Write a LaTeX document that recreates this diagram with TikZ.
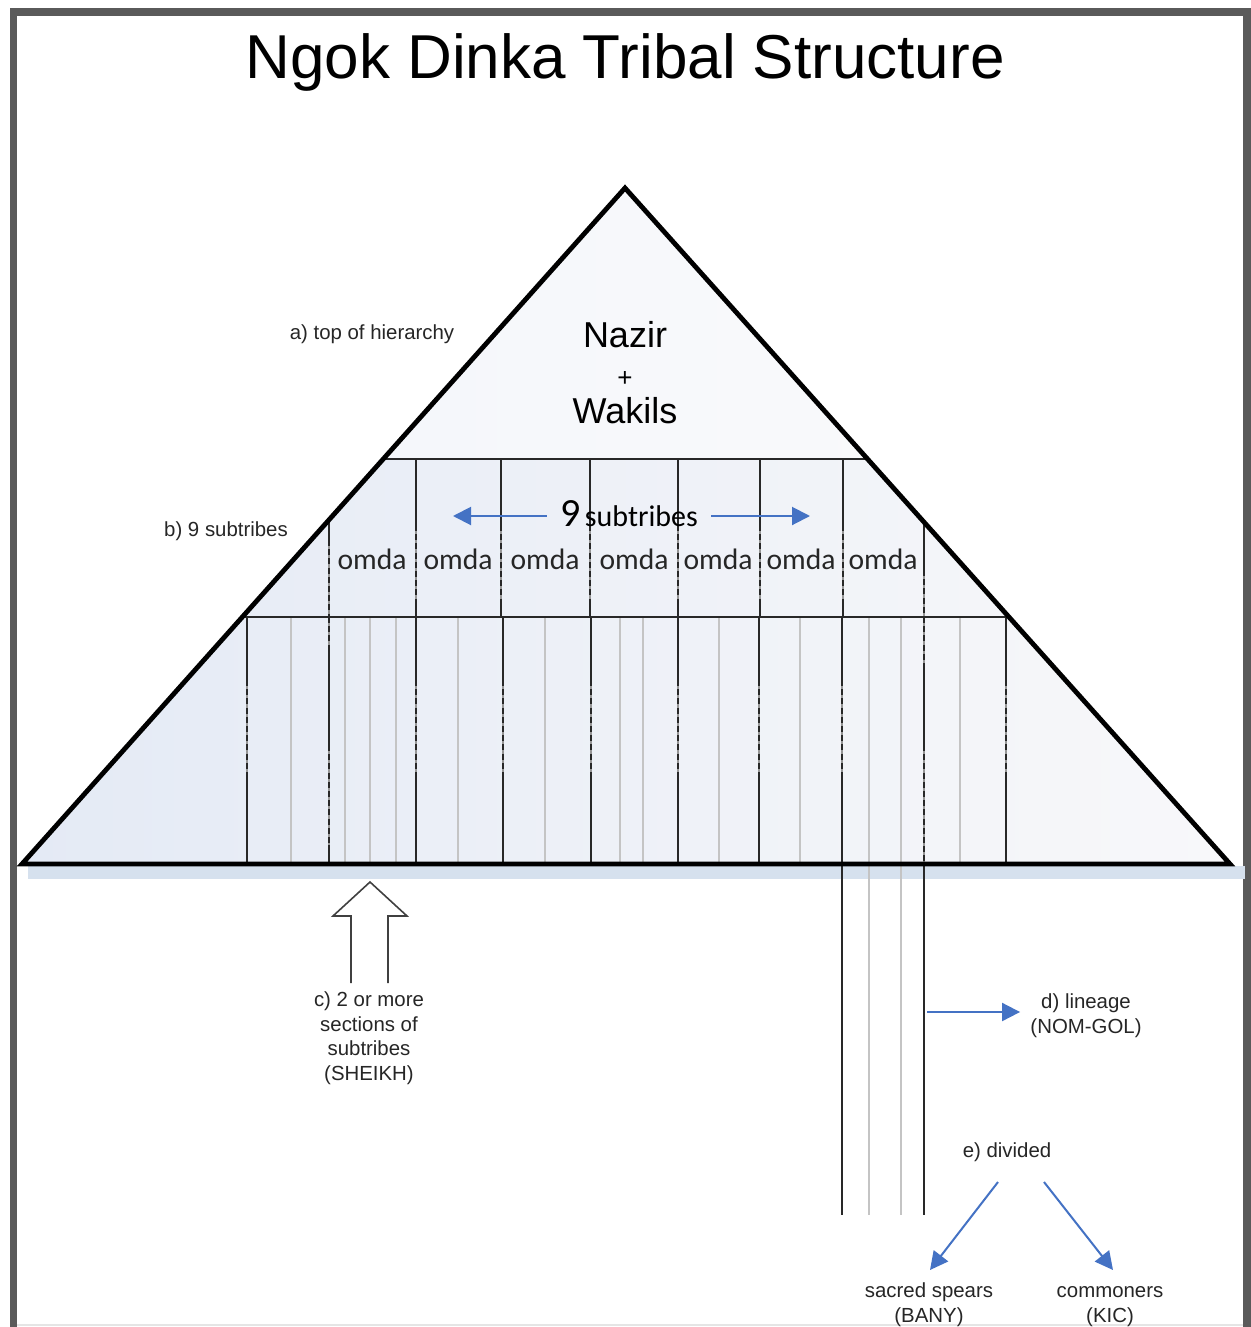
\documentclass[tikz,border=0pt]{standalone}
\usepackage{fontspec}
\setmainfont{Liberation Sans}
\newfontfamily\omdafont{Carlito}
\usetikzlibrary{arrows.meta,calc}

\definecolor{framegray}{RGB}{90,90,90}
\definecolor{tipblue}{RGB}{68,114,196}
\definecolor{shadowblue}{RGB}{214,225,238}
\definecolor{fillleft}{RGB}{228,234,245}
\definecolor{fillright}{RGB}{248,248,250}
\definecolor{darkline}{RGB}{40,40,40}
\definecolor{lightline}{RGB}{196,196,196}
\definecolor{gapline}{RGB}{150,150,150}

\begin{document}
\begin{tikzpicture}[x=0.5pt,y=-0.5pt,
  outline/.style={line width=2.4pt, line join=miter, black},
  divider/.style={line width=1.3pt, darkline},
  darkrule/.style={line width=1pt, darkline},
  lightrule/.style={line width=1pt, lightline},
  gaprule/.style={line width=1pt, gapline},
  dashpart/.style={dash pattern=on 3pt off 1.6pt},
  hollowtip/.style={line width=0.8pt, black!75, line join=miter},
  bluearrow/.style={line width=1pt, tipblue, -{Triangle[length=9pt,width=9pt]}},
  smalltext/.style={font=\fontsize{10.2}{12.2}\selectfont, text=black!85, inner sep=0pt, align=center, anchor=base},
  bigtext/.style={font=\fontsize{18}{20}\selectfont, inner sep=0pt, anchor=base},
  omdatext/.style={font=\omdafont\fontsize{14.8}{16}\selectfont, text=black!85, inner sep=0pt, anchor=base}
]
\useasboundingbox (0,0) rectangle (1251,1327);
\fill[white] (0,0) rectangle (1251,1327);

% frame (open at the bottom)
\fill[framegray] (10,8) rectangle (1251,16);
\fill[framegray] (10,8) rectangle (17,1327);
\fill[framegray] (1243,8) rectangle (1251,1327);
\draw[black!10, line width=0.8pt] (17,1325) -- (1243,1325);

% title
\node[font=\fontsize{31}{34}\selectfont, inner sep=0pt, anchor=base] (title) at (625,79) {Ngok Dinka Tribal Structure};

% pyramid corners and tier edges
\coordinate (apex) at (625,188);
\coordinate (bl) at (22,864);
\coordinate (br) at (1230,864);
\coordinate (l1) at ($(bl)!405/676!(apex)$);
\coordinate (r1) at ($(br)!405/676!(apex)$);
\coordinate (l2) at ($(bl)!247/676!(apex)$);
\coordinate (r2) at ($(br)!247/676!(apex)$);

% soft shadow under the base
\fill[shadowblue] (28,866) rectangle (1245,879);

% body fill
\shade[left color=fillleft, right color=fillright] (bl) -- (apex) -- (br) -- cycle;
\fill[white, opacity=0.55] (apex) -- (l1) -- (r1) -- cycle;

% middle tier: omda columns
\foreach \x in {416,501,590,678,760,843} {
  \draw[gaprule] (\x,459) -- (\x,617);
  \draw[darkrule] (\x,459) -- (\x,525) (\x,603) -- (\x,617);
  \draw[darkrule,dashpart] (\x,525) -- (\x,603);
}
\draw[gaprule] (329,520) -- (329,617);
\draw[darkrule] (329,520) -- (329,540);
\draw[darkrule,dashpart] (329,540) -- (329,617);
\draw[gaprule] (924,522) -- (924,617);
\draw[darkrule] (924,522) -- (924,570);
\draw[darkrule,dashpart] (924,570) -- (924,617);

% lower tier: sections
\foreach \x in {291,345,370,396,458,545,620,643,719,800,869,901,960}
  \draw[lightrule] (\x,617) -- (\x,864);
\foreach \x in {247,416,503,591,678,759,842,1006} {
  \draw[gaprule] (\x,617) -- (\x,864);
  \draw[darkrule] (\x,617) -- (\x,680) (\x,775) -- (\x,864);
  \draw[darkrule,dashpart] (\x,680) -- (\x,775);
}
\draw[gaprule] (329,617) -- (329,864);
\draw[darkrule,dashpart] (329,617) -- (329,650) (329,745) -- (329,845);
\draw[darkrule] (329,650) -- (329,745) (329,845) -- (329,864);
\draw[gaprule] (924,617) -- (924,864);
\draw[darkrule,dashpart] (924,617) -- (924,665) (924,745) -- (924,864);
\draw[darkrule] (924,665) -- (924,745);

% lineage lines running below the base
\draw[darkrule] (842,864) -- (842,1215);
\draw[lightrule] (869,864) -- (869,1215);
\draw[lightrule] (901,864) -- (901,1215);
\draw[darkrule] (924,864) -- (924,1215);

% tier dividers and outline
\draw[divider] (l1) -- (r1);
\draw[divider] (l2) -- (r2);
\draw[outline] (bl) -- (apex) -- (br) -- cycle;

% top tier text
\node[bigtext] (nazir) at (625,347) {Nazir};
\node[font=\fontsize{13}{14}\selectfont, inner sep=0pt, anchor=base] (plus) at (625,386) {+};
\node[bigtext] (wakils) at (625,423) {Wakils};

% side labels
\node[smalltext] (top) at (372,339) {a) top of hierarchy};
\node[smalltext] (nine) at (226,536) {b) 9 subtribes};

% middle tier text
\node[inner xsep=6.5pt, inner ysep=0pt, anchor=base] (sub) at (629,526)
  {\omdafont{\fontsize{20}{22}\selectfont 9} \fontsize{15}{16}\selectfont subtribes};
\coordinate (subL) at (453,516);
\coordinate (subR) at (810,516);
\draw[bluearrow] (sub.west |- subL) -- (subL);
\draw[bluearrow] (sub.east |- subR) -- (subR);

\foreach \x/\n in {372/1,458/2,545/3,634/4,718/5,801/6,883/7}
  \node[omdatext] (omda\n) at (\x,569) {omda};

% sections arrow (outlined, open at the tail)
\draw[hollowtip] (351,983) -- (351,916) -- (333,916) -- (370,882) -- (407,916) -- (388,916) -- (388,983);
\node[smalltext] (sheikh) at (369,1080) {c) 2 or more\\sections of\\subtribes\\(SHEIKH)};

% lineage
\node[smalltext] (lineage) at (1086,1033) {d) lineage\\(NOM-GOL)};
\coordinate (dstart) at (927,1012);
\draw[bluearrow, shorten >=5pt] (dstart) -- (dstart -| lineage.west);

% division into spears and commoners
\node[smalltext] (divided) at (1007,1157) {e) divided};
\node[smalltext] (bany) at (929,1322) {sacred spears\\(BANY)};
\node[smalltext] (kic) at (1110,1322) {commoners\\(KIC)};
\coordinate (eL) at (998,1182);
\coordinate (eR) at (1044,1182);
\coordinate (banytip) at (930,1270);
\coordinate (kictip) at (1113,1270);
\draw[bluearrow] (eL) -- (banytip);
\draw[bluearrow] (eR) -- (kictip);
\end{tikzpicture}
\end{document}
